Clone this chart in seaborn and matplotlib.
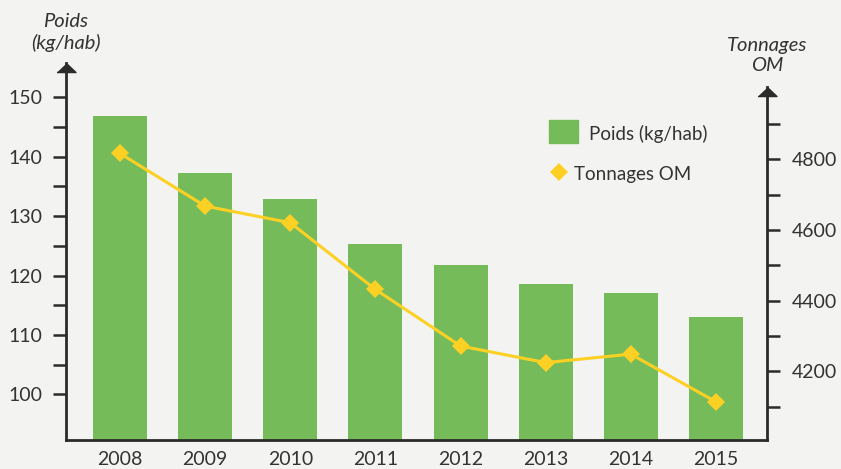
import numpy as np
import matplotlib.pyplot as plt
import matplotlib.patches as mpatches
import matplotlib.lines as mlines
import seaborn as sns

# données
years = ["2008", "2009", "2010", "2011", "2012", "2013", "2014", "2015"]
poids = [146.9, 137.3, 132.9, 125.3, 121.8, 118.6, 117.1, 113.0]
tonnages = [4817, 4668, 4621, 4432, 4272, 4225, 4249, 4114]

left_major = [100, 110, 120, 130, 140, 150]
left_minor = [105, 115, 125, 135, 145]
right_major = [4200, 4400, 4600, 4800]
right_minor = [4100, 4300, 4500, 4700, 4900]

BG = "#f3f3f2"
GREEN = "#76bb5a"
YELLOW = "#fdd024"
DARK = "#2b2b2b"
TXT = "#333333"
W, H = 841, 469

sns.set_theme(style="white")
plt.rcParams['font.family'] = ['Lato', 'DejaVu Sans']

fig = plt.figure(figsize=(W / 100, H / 100), dpi=100, facecolor=BG)
ax = fig.add_axes([66 / W, 1 - 440 / H, (767 - 66) / W, (440 - 63) / H])
ax.set_facecolor(BG)

sns.barplot(x=years, y=poids, ax=ax, color=GREEN, saturation=1, width=0.635,
            linewidth=0, edgecolor="none")
ax.set_xlim(-0.635, 7.60)
ax.set_ylim(92.3, 155.8)

ax2 = ax.twinx()
sns.pointplot(x=years, y=tonnages, ax=ax2, color=YELLOW, markers="D",
              linewidth=2.2, markersize=9.6, markeredgewidth=0)
ax2.set_xlim(-0.635, 7.60)
ax2.set_ylim(4006, 5073)

# axes
for s in ["top", "right"]:
    ax.spines[s].set_visible(False)
for s in ["top", "left", "bottom"]:
    ax2.spines[s].set_visible(False)
for sp in [ax.spines["left"], ax.spines["bottom"], ax2.spines["right"]]:
    sp.set_color(DARK)
    sp.set_linewidth(2)
ax2.spines["right"].set_bounds(4006, 5005)

ax.set_yticks(left_major)
ax.set_yticks(left_minor, minor=True)
ax.tick_params(axis="y", which="both", direction="out", length=9.5, width=1.8,
               color=DARK, left=True, labelsize=14, labelcolor=TXT, pad=7.5)
ax.tick_params(axis="x", length=0, labelsize=14, labelcolor=TXT, pad=8)
ax.set_xlabel("")
ax.set_ylabel("")

ax2.set_yticks(right_major)
ax2.set_yticks(right_minor, minor=True)
ax2.tick_params(axis="y", which="both", direction="out", length=9.5, width=1.8,
                color=DARK, right=True, labelsize=14, labelcolor=TXT, pad=8)
ax2.set_ylabel("")

# flèches
tri = [(-1, -0.95), (1, -0.95), (0, 0)]
ax.plot([ax.get_xlim()[0]], [155.8], marker=tri, markersize=13.7, color=DARK,
        clip_on=False, linestyle="none")
ax2.plot([ax2.get_xlim()[1]], [5005], marker=tri, markersize=13.7, color=DARK,
         clip_on=False, linestyle="none")

# titres des axes
fig.text(66 / W, 1 - 32.5 / H, "Poids\n(kg/hab)", ha="center", va="center",
         style="italic", fontsize=14.5, color=TXT, linespacing=1.25)
fig.text(767 / W, 1 - 55.5 / H, "Tonnages\nOM", ha="center", va="center",
         style="italic", fontsize=14.5, color=TXT, linespacing=1.25)

# légende
fig.add_artist(mpatches.Rectangle((549 / W, 1 - 143 / H), 29 / W, 23 / H,
                                  transform=fig.transFigure, color=GREEN))
fig.text(589 / W, 1 - 134 / H, "Poids (kg/hab)", ha="left", va="center",
         fontsize=13.5, color=TXT)
fig.add_artist(mlines.Line2D([559 / W], [1 - 172 / H], marker="D", markersize=9.6,
                             color=YELLOW, markeredgewidth=0,
                             transform=fig.transFigure))
fig.text(574 / W, 1 - 174 / H, "Tonnages OM", ha="left", va="center",
         fontsize=13.5, color=TXT)

fig.savefig("out.png", dpi=100, facecolor=BG)
